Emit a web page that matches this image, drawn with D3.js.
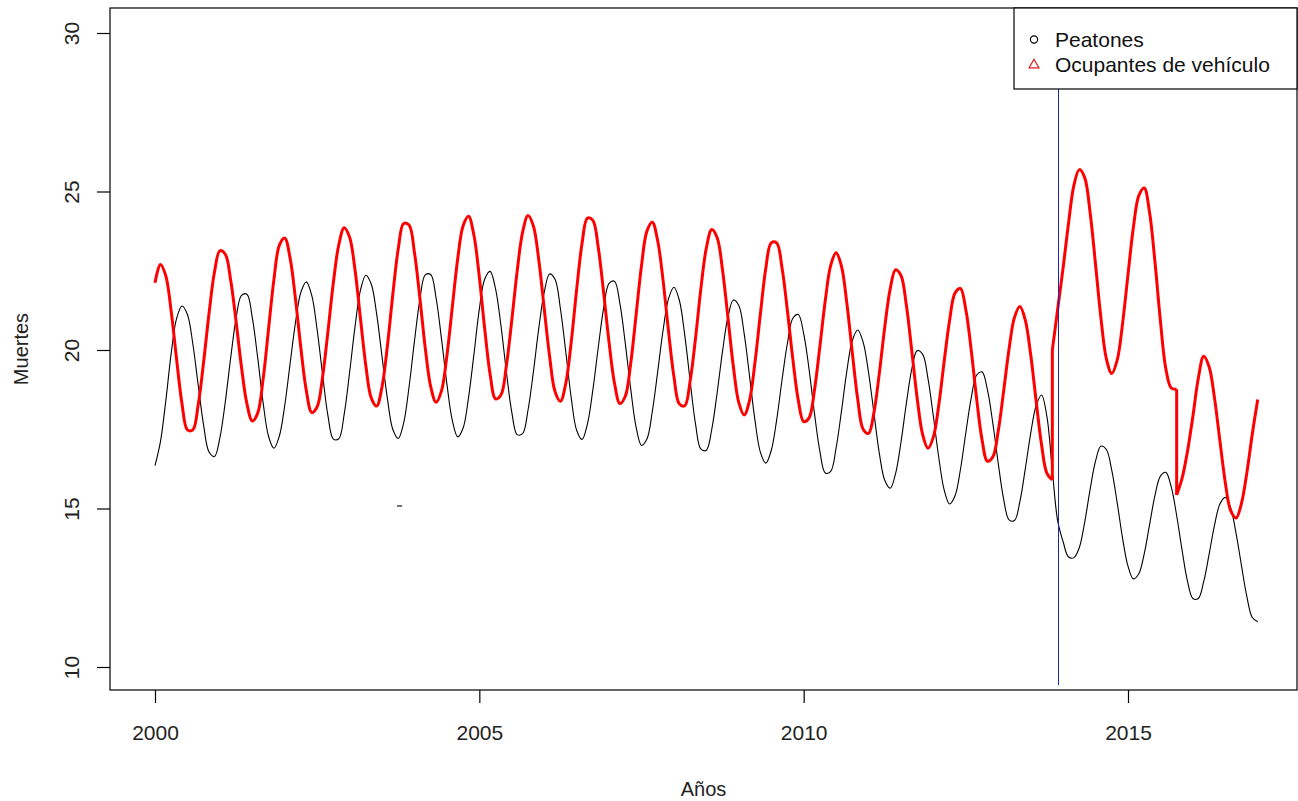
<!DOCTYPE html>
<html>
<head>
<meta charset="utf-8">
<script src="https://d3js.org/d3.v7.min.js"></script>
<style>
body{margin:0;background:#fff;}
svg{display:block;font-family:Arial,"Liberation Sans",sans-serif;}
</style>
</head>
<body>
<svg id="canvas" width="1298" height="801"></svg>
<script>
// serie mensual, enero 2000 - enero 2017
let inicio=2000;
let peatones=[
16.35,17.10,18.40,19.90,21.00,21.39,21.12,20.19,18.88,17.62,16.78,16.64,
17.23,18.36,19.75,21.00,21.72,21.76,21.02,19.75,18.34,17.28,16.90,17.28,
18.25,19.58,20.88,21.83,22.15,21.72,20.63,19.23,17.92,17.19,17.20,17.98,
19.29,20.73,21.88,22.36,22.08,21.14,19.79,18.46,17.49,17.21,17.70,18.84,
20.28,21.59,22.37,22.38,21.64,20.35,18.93,17.78,17.26,17.54,18.50,19.86,
21.29,22.24,22.48,21.93,20.77,19.32,18.04,17.33,17.36,18.10,19.31,20.69,
21.82,22.40,22.23,21.30,19.93,18.49,17.47,17.18,17.67,18.74,20.08,21.33,
22.10,22.17,21.47,20.21,18.78,17.57,16.99,17.19,18.06,19.32,20.63,21.62,
21.98,21.57,20.47,19.02,17.66,16.87,16.84,17.50,18.66,19.97,21.05,21.58,
21.40,20.51,19.16,17.77,16.77,16.43,16.83,17.79,19.06,20.22,21.00,21.12,
20.52,19.39,18.00,16.80,16.12,16.17,16.91,18.08,19.35,20.30,20.63,20.25,
19.29,18.01,16.74,15.89,15.64,16.10,17.09,18.32,19.40,19.98,19.87,19.10,
17.90,16.60,15.58,15.14,15.40,16.23,17.39,18.49,19.21,19.31,18.74,17.68,
16.42,15.29,14.64,14.62,15.22,16.25,17.37,18.24,18.58,17.90,16.20,14.60,
13.95,13.47,13.45,13.77,14.58,15.61,16.50,16.97,16.86,16.20,15.18,14.06,
13.18,12.78,12.94,13.57,14.50,15.42,16.02,16.14,15.68,14.78,13.69,12.71,
12.16,12.16,12.69,13.55,14.47,15.14,15.35,15.01,14.21,13.19,12.21,11.56,
11.43];
let ocupantes=[
22.12,22.70,22.34,21.21,19.70,18.30,17.48,17.48,18.28,19.63,21.16,22.45,
23.13,23.02,22.20,20.90,19.46,18.31,17.76,18.01,19.08,20.65,22.22,23.30,
23.53,22.89,21.59,20.04,18.71,18.03,18.21,19.15,20.59,22.13,23.32,23.86,
23.56,22.53,21.01,19.51,18.49,18.23,18.84,20.14,21.76,23.19,23.99,23.94,
23.07,21.64,20.06,18.85,18.35,18.71,19.82,21.35,22.88,23.92,24.22,23.62,
22.30,20.66,19.23,18.46,18.58,19.50,20.93,22.49,23.71,24.24,23.91,22.84,
21.31,19.80,18.69,18.38,18.95,20.25,21.90,23.36,24.16,24.09,23.23,21.80,
20.24,18.96,18.31,18.54,19.57,21.11,22.66,23.75,24.03,23.44,22.18,20.59,
19.16,18.30,18.24,19.02,20.38,21.96,23.22,23.80,23.54,22.51,21.01,19.47,
18.34,17.95,18.42,19.62,21.15,22.58,23.38,23.38,22.59,21.23,19.71,18.42,
17.74,17.86,18.74,20.11,21.56,22.67,23.07,22.64,21.46,19.91,18.45,17.50,
17.37,18.03,19.27,20.72,21.92,22.53,22.35,21.41,19.97,18.48,17.34,16.90,
17.26,18.27,19.65,20.94,21.80,21.94,21.27,19.99,18.46,17.17,16.49,16.63,
17.45,18.71,20.04,21.03,21.37,20.94,19.85,18.40,17.02,16.11,15.90,21.30,
22.60,24.00,25.20,25.69,25.43,24.32,22.69,21.00,19.72,19.26,19.68,20.84,
22.38,23.87,24.87,25.11,24.32,22.76,20.91,19.41,18.80,18.76,15.95,16.80,
17.90,19.10,19.80,19.47,18.49,17.14,15.82,14.93,14.70,15.17,16.14,17.36,
18.44];
// saltos verticales de la serie de ocupantes: [indice, valor tras el salto]
let saltosOcupantes=[[166,20.0],[189,15.43]];
// trazo suelto de peatones
let trazoSuelto=[[2003.73,15.08],[2003.81,15.08]];
let corte=2013.92;
let xTicks=[2000,2005,2010,2015];
let yTicks=[10,15,20,25,30];
let leyenda=["Peatones","Ocupantes de vehículo"];
let coloresLeyenda=["black","#e31a1c"];

let canvas=d3.select("#canvas");
let pLeft=110,pRight=1297,pTop=8,pBottom=690;

let xScale=d3.scaleLinear().domain([2000,2015]).range([155,1128]);
let yScale=d3.scaleLinear().domain([10,30]).range([667,33]);

let mes=(i)=>inicio+i/12;
let ptsPeatones=peatones.map((v,i)=>[mes(i),v]);
// tramos de ocupantes separados por los saltos verticales
let tramos=[[]];
ocupantes.forEach((v,i)=>{
  tramos[tramos.length-1].push([mes(i),v]);
  saltosOcupantes.filter(s=>s[0]===i).forEach(s=>tramos.push([[mes(i),s[1]]]));
});

let curva=d3.curveCatmullRom.alpha(0.5);
let line=d3.line().x(d=>xScale(d[0])).y(d=>yScale(d[1])).curve(curva);
let recta=d3.line().x(d=>xScale(d[0])).y(d=>yScale(d[1]));

canvas.append("rect").attr("width",1298).attr("height",801).attr("fill","white");

canvas.append("path").datum(ptsPeatones).attr("d",line)
  .attr("fill","none").attr("stroke","black").attr("stroke-width",1.1);
canvas.append("path").datum(trazoSuelto).attr("d",recta)
  .attr("fill","none").attr("stroke","black").attr("stroke-width",1.1);

tramos.forEach((t,k)=>{
  canvas.append("path").datum(t).attr("d",line)
    .attr("fill","none").attr("stroke","#ff0000").attr("stroke-width",3).attr("stroke-linejoin","round");
  if(k>0){
    let prev=tramos[k-1][tramos[k-1].length-1];
    canvas.append("path").datum([prev,t[0]]).attr("d",recta)
      .attr("fill","none").attr("stroke","#ff0000").attr("stroke-width",3);
  }
});

let xCorte=Math.round(xScale(corte))+0.5;
canvas.append("line")
  .attr("x1",xCorte).attr("x2",xCorte)
  .attr("y1",pTop).attr("y2",yScale(9.43))
  .attr("stroke","#2222bb").attr("stroke-width",1);

// caja
canvas.append("rect").attr("x",pLeft).attr("y",pTop).attr("width",pRight-pLeft).attr("height",pBottom-pTop)
  .attr("fill","none").attr("stroke","black").attr("stroke-width",1.2);

// eje x
let xAxis=d3.axisBottom(xScale).tickValues(xTicks).tickFormat(d3.format("d")).tickSize(13).tickSizeOuter(0);
let gx=canvas.append("g").attr("transform","translate(0,"+pBottom+")").call(xAxis);
gx.select(".domain").remove();
gx.selectAll("text").attr("dy",null).attr("y",50).style("font","21px Arial").attr("fill","#222");
gx.selectAll("line").attr("stroke","black").attr("stroke-width",1.2);

// eje y
let yAxis=d3.axisLeft(yScale).tickValues(yTicks).tickSize(13).tickSizeOuter(0);
let gy=canvas.append("g").attr("transform","translate("+pLeft+",0)").call(yAxis);
gy.select(".domain").remove();
gy.selectAll("line").attr("stroke","black").attr("stroke-width",1.2);
gy.selectAll("text").attr("x",null).attr("dy",null).attr("text-anchor","middle")
  .attr("transform","translate(-31,0) rotate(-90)").style("font","21px Arial").attr("fill","#222");

// titulos
canvas.append("text").text("Años").attr("x",(pLeft+pRight)/2).attr("y",796)
  .attr("text-anchor","middle").style("font","20px Arial").attr("fill","#222");
canvas.append("text").text("Muertes").attr("transform","translate(28,"+((pTop+pBottom)/2)+") rotate(-90)")
  .attr("text-anchor","middle").style("font","20px Arial").attr("fill","#222");

// leyenda
canvas.append("rect").attr("x",1014).attr("y",pTop).attr("width",pRight-1014).attr("height",81)
  .attr("fill","white").attr("stroke","black").attr("stroke-width",1.2);
let lg=canvas.selectAll(".leg").data(leyenda).enter().append("g").attr("class","leg")
  .attr("transform",(d,i)=>"translate(0,"+(i*25)+")");
lg.append("text").text(d=>d).attr("x",1055).attr("y",46.5)
  .style("font","21px Arial").attr("fill","#111");
canvas.append("circle").attr("cx",1034).attr("cy",39.5).attr("r",3.6)
  .attr("fill","none").attr("stroke",coloresLeyenda[0]).attr("stroke-width",1.2);
canvas.append("path").attr("d",d3.symbol().type(d3.symbolTriangle).size(42))
  .attr("transform","translate(1034,65)")
  .attr("fill","none").attr("stroke",coloresLeyenda[1]).attr("stroke-width",1.2);
</script>
</body>
</html>
